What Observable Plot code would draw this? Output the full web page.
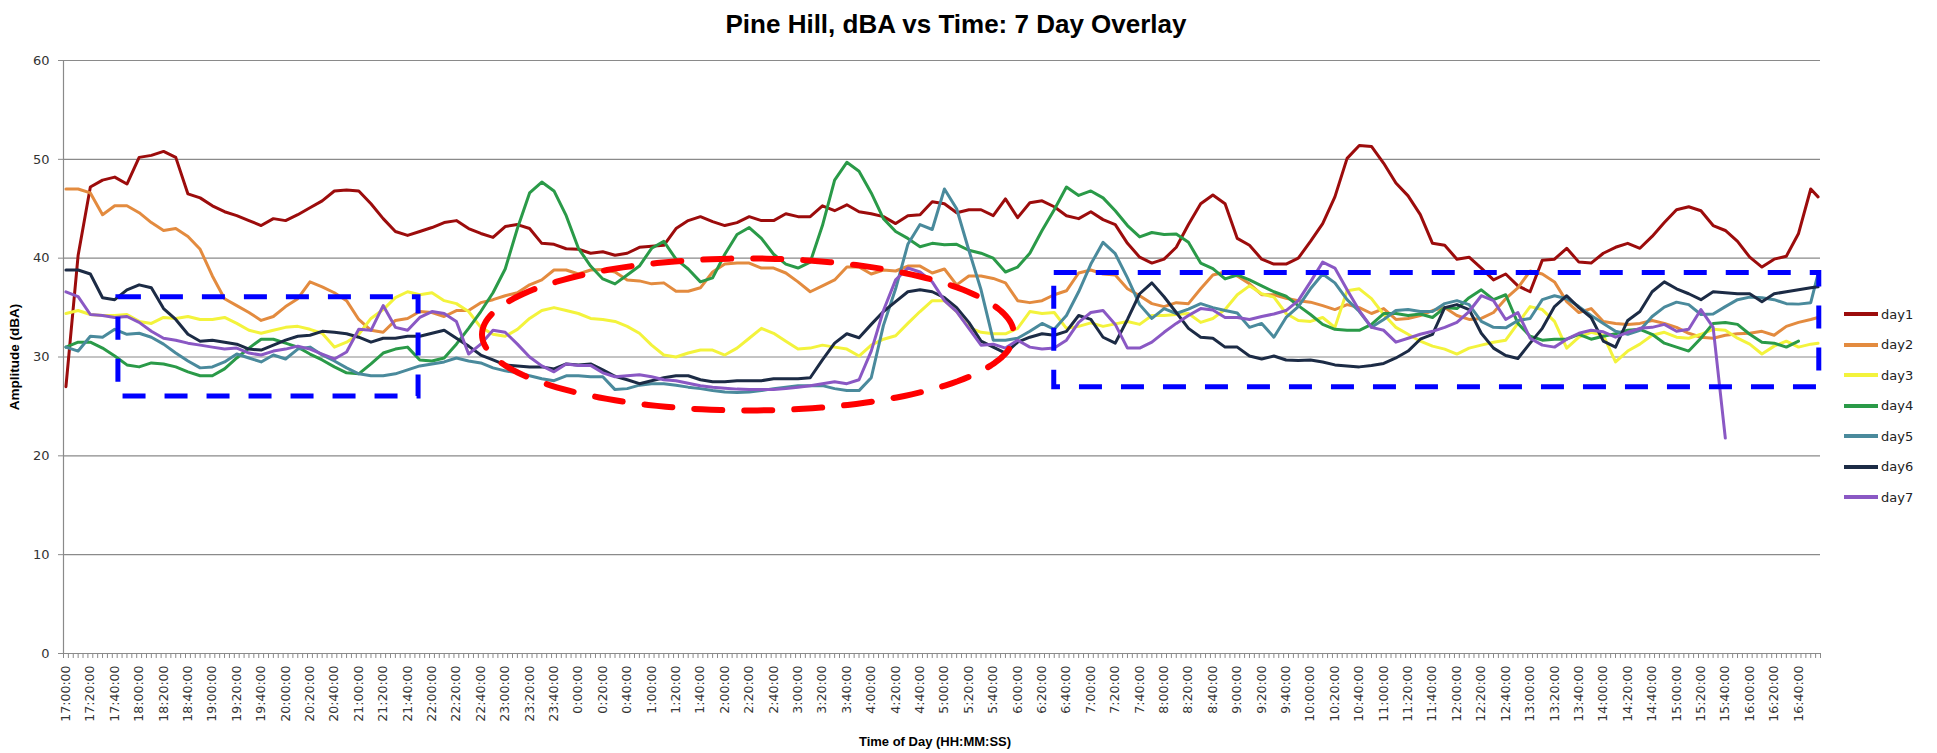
<!DOCTYPE html>
<html>
<head>
<meta charset="utf-8">
<script src="https://cdn.jsdelivr.net/npm/d3@7"></script>
<script src="https://cdn.jsdelivr.net/npm/@observablehq/plot@0.6"></script>
<style>
  html, body { margin: 0; padding: 0; background: #fff; overflow: hidden; }
  #wrap { position: relative; width: 1937px; height: 753px; }
  .leg { position: absolute; left: 1844px; height: 20px; display: flex; align-items: center;
         font-family: "DejaVu Sans", sans-serif; font-size: 13px; color: #222; }
  .leg span { margin-left: 3px; }
</style>
</head>
<body>
<div id="wrap"></div>
<script>
// ---- data (dBA), one sample every 10 minutes from 17:00, last sample at 16:56 ----
const dayNames = ["day1", "day2", "day3", "day4", "day5", "day6", "day7"];
const dayColors = ["#9c0c0c", "#e38b3f", "#f3f33c", "#2a9a48", "#4a8a9c", "#1c2b45", "#8a58c4"];

const sampleMinutes = d3.range(0, 1440, 10).concat([1436]); // minutes after 17:00

const day1 = [
  27.0, 40.3, 47.2, 47.9, 48.2, 47.5, 50.2, 50.4, 50.8, 50.2,
  46.5, 46.1, 45.3, 44.7, 44.3, 43.8, 43.3, 44.0, 43.8, 44.4,
  45.1, 45.8, 46.8, 46.9, 46.8, 45.5, 44.0, 42.7, 42.3, 42.7,
  43.1, 43.6, 43.8, 43.0, 42.5, 42.1, 43.2, 43.4, 43.0, 41.5,
  41.4, 40.95, 40.9, 40.5, 40.65, 40.3, 40.5, 41.1, 41.2, 41.3,
  43.0, 43.8, 44.2, 43.7, 43.3, 43.6, 44.2, 43.8, 43.8, 44.5,
  44.2, 44.2, 45.3, 44.8, 45.4, 44.7, 44.5, 44.2, 43.5, 44.3,
  44.4, 45.7, 45.5, 44.6, 44.9, 44.9, 44.3, 46.0, 44.1, 45.6,
  45.8, 45.2, 44.3, 44.0, 44.7, 43.9, 43.4, 41.5, 40.1, 39.5,
  39.9, 41.1, 43.4, 45.5, 46.4, 45.5, 42.0, 41.3, 39.9, 39.4,
  39.4, 40.0, 41.7, 43.5, 46.2, 50.1, 51.4, 51.3, 49.6, 47.6,
  46.3, 44.4, 41.5, 41.3, 39.9, 40.1, 39.0, 37.8, 38.4, 37.2,
  36.6, 39.8, 39.9, 41.0, 39.6, 39.5, 40.5, 41.1, 41.5, 41.0,
  42.2, 43.6, 44.9, 45.2, 44.8, 43.3, 42.8, 41.7, 40.1, 39.1,
  39.9, 40.2, 42.5, 47.0, 46.2
];
const day2 = [
  47.0, 47.0, 46.6, 44.4, 45.3, 45.3, 44.6, 43.6, 42.8, 43.0,
  42.2, 40.9, 38.2, 35.9, 35.2, 34.5, 33.7, 34.1, 35.1, 35.9,
  37.6, 37.1, 36.5, 35.7, 33.8, 32.7, 32.5, 33.7, 33.9, 34.6,
  34.5, 34.1, 34.7, 34.7, 35.5, 35.8, 36.2, 36.5, 37.3, 37.8,
  38.8, 38.8, 38.4, 38.8, 38.85, 38.6, 37.8, 37.7, 37.4, 37.5,
  36.65, 36.65, 37.0, 38.6, 39.4, 39.5, 39.5, 39.0, 39.0, 38.5,
  37.6, 36.6, 37.2, 37.8, 39.1, 39.1, 38.4, 38.8, 38.7, 39.2,
  39.2, 38.5, 38.9, 37.3, 38.2, 38.2, 37.95, 37.5, 35.7, 35.5,
  35.7, 36.3, 36.7, 38.5, 38.8, 38.4, 38.3, 36.9, 36.2, 35.4,
  35.1, 35.5, 35.4, 36.9, 38.3, 38.6, 38.2, 37.4, 36.3, 36.3,
  35.95, 35.7, 35.55, 35.2, 34.8, 35.3, 35.0, 34.4, 34.9, 33.8,
  33.9, 34.2, 34.7, 35.0, 34.2, 33.8, 33.9, 34.5, 35.9, 37.0,
  38.7, 38.4, 37.6, 35.6, 34.5, 34.9, 33.6, 33.4, 33.3, 33.4,
  33.7, 33.4, 33.0, 32.4, 32.0, 31.9, 32.2, 32.35, 32.4, 32.6,
  32.2, 33.1, 33.5, 33.8, 34.0
];
const day3 = [
  34.4, 34.7, 34.3, 34.2, 34.2, 34.3, 33.6, 33.4, 34.0, 33.9,
  34.1, 33.8, 33.8, 34.0, 33.4, 32.7, 32.4, 32.7, 33.0, 33.1,
  32.8, 32.4, 31.0, 31.5, 32.3, 33.9, 34.8, 36.0, 36.6, 36.3,
  36.5, 35.7, 35.4, 34.6, 33.0, 32.3, 32.1, 32.8, 33.9, 34.7,
  35.0, 34.7, 34.4, 33.9, 33.8, 33.6, 33.1, 32.4, 31.2, 30.2,
  30.0, 30.4, 30.7, 30.7, 30.2, 30.9, 31.9, 32.9, 32.4, 31.6,
  30.8, 30.9, 31.2, 31.0, 30.8, 30.1, 31.2, 31.8, 32.15, 33.4,
  34.6, 35.7, 35.7, 34.6, 33.0, 32.5, 32.35, 32.35, 32.9, 34.6,
  34.4, 34.5, 32.9, 33.1, 33.45, 33.1, 33.35, 33.6, 33.3, 34.2,
  34.2, 34.3, 34.4, 33.5, 33.9, 34.8, 36.3, 37.2, 36.4, 36.06,
  34.4, 33.7, 33.6, 34.0, 33.0, 36.7, 36.9, 35.9, 34.3, 33.0,
  32.3, 31.6, 31.1, 30.8, 30.3, 30.9, 31.2, 31.5, 31.7, 33.4,
  35.1, 34.8, 33.6, 30.9, 32.0, 32.5, 32.2, 29.5, 30.6, 31.3,
  32.2, 32.5, 32.0, 31.9, 32.3, 32.8, 32.7, 31.9, 31.3, 30.3,
  31.1, 31.6, 31.0, 31.3, 31.4
];
const day4 = [
  31.0, 31.5, 31.5, 30.9, 30.1, 29.2, 29.0, 29.4, 29.3, 29.0,
  28.5, 28.1, 28.1, 28.8, 29.9, 30.9, 31.8, 31.8, 31.4, 31.0,
  30.3, 29.7, 29.0, 28.4, 28.3, 29.3, 30.4, 30.8, 31.0, 29.7,
  29.6, 29.9, 31.3, 32.9, 34.6, 36.5, 38.9, 43.0, 46.6, 47.7,
  46.8, 44.3, 41.0, 39.2, 37.9, 37.4, 38.3, 39.2, 41.0, 41.7,
  39.9, 38.9, 37.6, 38.0, 40.4, 42.4, 43.1, 42.0, 40.4, 39.4,
  39.0, 39.6, 43.3, 47.9, 49.7, 48.8, 46.6, 44.0, 42.7, 42.0,
  41.15, 41.5, 41.35, 41.4, 40.8, 40.5, 40.0, 38.6, 39.1, 40.5,
  42.8, 44.9, 47.2, 46.35, 46.8, 46.1, 44.8, 43.3, 42.15, 42.6,
  42.4, 42.45, 41.6, 39.5, 38.95, 37.9, 38.3, 37.8, 37.2, 36.6,
  36.15, 35.2, 34.3, 33.3, 32.8, 32.7, 32.7, 33.3, 34.4, 34.4,
  34.2, 34.35, 34.0, 35.0, 34.9, 36.0, 36.8, 35.8, 36.3, 33.4,
  32.1, 31.7, 31.8, 31.8, 32.3, 31.8, 32.1, 32.35, 32.7, 32.8,
  32.3, 31.4, 31.0, 30.6, 31.9, 33.4, 33.5, 33.3, 32.3, 31.5,
  31.4, 31.0, 31.6, null, null
];
const day5 = [
  31.0, 30.6, 32.1, 32.0, 32.8, 32.3, 32.4, 32.0, 31.3, 30.4,
  29.6, 28.9, 29.0, 29.5, 30.3, 29.9, 29.5, 30.2, 29.8, 30.8,
  31.0, 30.2, 29.6, 28.9, 28.3, 28.1, 28.1, 28.3, 28.7, 29.1,
  29.3, 29.5, 29.9, 29.6, 29.4, 28.9, 28.6, 28.4, 28.1, 27.8,
  27.6, 28.1, 28.1, 28.0, 28.0, 26.7, 26.8, 27.15, 27.3, 27.3,
  27.15, 26.95, 26.8, 26.6, 26.45, 26.4, 26.45, 26.6, 26.8, 26.95,
  27.1, 27.1, 27.1, 26.8, 26.6, 26.6, 27.9, 33.2, 36.9, 41.4,
  43.4, 42.9, 47.0, 45.0, 40.8, 36.8, 31.7, 31.7, 31.9, 32.6,
  33.4, 32.8, 34.2, 36.6, 39.4, 41.6, 40.45, 38.0, 35.3, 33.9,
  34.9, 34.4, 34.85, 35.4, 35.0, 34.7, 34.45, 33.0, 33.4, 32.0,
  34.0, 35.1, 36.9, 38.4, 37.5, 35.8, 34.6, 33.0, 33.8, 34.7,
  34.8, 34.6, 34.6, 35.4, 35.7, 35.3, 33.6, 33.0, 32.95, 33.7,
  33.9, 35.8, 36.2, 35.9, 35.1, 34.2, 33.4, 32.6, 32.3, 32.7,
  34.1, 35.05, 35.55, 35.3, 34.3, 34.35, 35.1, 35.8, 36.06, 36.0,
  35.8, 35.4, 35.35, 35.5, 38.4
];
const day6 = [
  38.8, 38.8, 38.4, 36.0, 35.8, 36.8, 37.3, 37.0, 34.9, 33.8,
  32.3, 31.6, 31.7, 31.5, 31.3, 30.8, 30.7, 31.2, 31.7, 32.1,
  32.2, 32.6, 32.5, 32.35, 32.0, 31.5, 31.9, 31.9, 32.1, 32.1,
  32.4, 32.7, 31.9, 31.1, 30.2, 29.7, 29.2, 29.1, 29.0, 29.0,
  28.8, 29.3, 29.2, 29.3, 28.7, 28.05, 27.7, 27.3, 27.6, 27.9,
  28.1, 28.1, 27.7, 27.5, 27.5, 27.6, 27.6, 27.6, 27.8, 27.8,
  27.8, 27.9, 29.7, 31.4, 32.35, 31.95, 33.3, 34.6, 35.6, 36.6,
  36.8, 36.6, 36.0, 35.0, 33.5, 31.6, 31.0, 30.4, 31.5, 32.0,
  32.35, 32.2, 32.6, 34.2, 33.8, 32.0, 31.4, 33.8, 36.4, 37.5,
  36.1, 34.5, 32.9, 32.0, 31.9, 31.0, 31.0, 30.1, 29.8, 30.1,
  29.7, 29.65, 29.7, 29.5, 29.2, 29.1, 29.0, 29.15, 29.35, 29.9,
  30.6, 31.8, 32.3, 35.0, 35.3, 34.8, 32.4, 30.9, 30.15, 29.85,
  31.4, 32.9, 35.1, 36.2, 35.0, 34.0, 31.6, 31.0, 33.7, 34.6,
  36.6, 37.6, 36.9, 36.4, 35.8, 36.6, 36.5, 36.4, 36.4, 35.6,
  36.4, 36.6, 36.8, 37.0, 37.1
];
const day7 = [
  36.6, 36.1, 34.3, 34.2, 34.0, 34.1, 33.5, 32.6, 31.9, 31.7,
  31.4, 31.2, 31.0, 30.8, 30.9, 30.4, 30.2, 30.6, 30.8, 31.1,
  30.8, 30.3, 29.8, 30.5, 32.8, 32.7, 35.2, 33.0, 32.7, 34.0,
  34.6, 34.4, 33.6, 30.3, 31.3, 32.7, 32.5, 31.3, 30.0, 29.1,
  28.5, 29.3, 29.15, 29.15, 28.4, 28.0, 28.1, 28.2, 28.0, 27.7,
  27.6, 27.35, 27.1, 26.95, 26.85, 26.75, 26.7, 26.7, 26.7, 26.8,
  26.95, 27.1, 27.3, 27.5, 27.3, 27.7, 30.6, 34.7, 37.8, 39.0,
  38.6, 37.6, 35.7, 34.6, 32.9, 31.2, 31.3, 30.9, 31.7, 31.0,
  30.8, 30.9, 31.7, 33.5, 34.5, 34.7, 33.3, 30.9, 30.9, 31.5,
  32.5, 33.4, 34.2, 34.9, 34.75, 34.0, 34.0, 33.8, 34.1, 34.35,
  34.7, 35.7, 37.6, 39.6, 39.0, 36.8, 34.7, 33.0, 32.7, 31.5,
  31.9, 32.3, 32.6, 33.0, 33.5, 34.6, 36.2, 35.7, 33.8, 34.5,
  31.9, 31.2, 31.0, 31.8, 32.4, 32.7, 32.55, 32.0, 32.5, 32.9,
  33.0, 33.3, 32.6, 32.8, 34.8, 33.0, 21.8, null, null, null,
  null, null, null, null, null
];
const series = [day1, day2, day3, day4, day5, day6, day7];

const yTicks = [0, 10, 20, 30, 40, 50, 60];
const tickLabels = [
  "17:00:00","17:20:00","17:40:00","18:00:00","18:20:00","18:40:00",
  "19:00:00","19:20:00","19:40:00","20:00:00","20:20:00","20:40:00",
  "21:00:00","21:20:00","21:40:00","22:00:00","22:20:00","22:40:00",
  "23:00:00","23:20:00","23:40:00","0:00:00","0:20:00","0:40:00",
  "1:00:00","1:20:00","1:40:00","2:00:00","2:20:00","2:40:00",
  "3:00:00","3:20:00","3:40:00","4:00:00","4:20:00","4:40:00",
  "5:00:00","5:20:00","5:40:00","6:00:00","6:20:00","6:40:00",
  "7:00:00","7:20:00","7:40:00","8:00:00","8:20:00","8:40:00",
  "9:00:00","9:20:00","9:40:00","10:00:00","10:20:00","10:40:00",
  "11:00:00","11:20:00","11:40:00","12:00:00","12:20:00","12:40:00",
  "13:00:00","13:20:00","13:40:00","14:00:00","14:20:00","14:40:00",
  "15:00:00","15:20:00","15:40:00","16:00:00","16:20:00","16:40:00"
];

// annotation shapes (minutes after 17:00, dBA)
const blueBoxes = [
  {t1: 43, t2: 289, v1: 26.0, v2: 36.05},
  {t1: 810, t2: 1437, v1: 26.95, v2: 38.5}
];
const redEllipse = {t: 559, v: 32.28, rt: 218, rv: 7.69};

// ---- build ----
const labelMinutes = tickLabels.map((_, i) => i * 20);
const labelMap = new Map(labelMinutes.map((m, i) => [m, tickLabels[i]]));
const minorTicks = d3.range(-2, 1438.5, 4);

const rows = [];
series.forEach((vals, i) => vals.forEach((v, j) => {
  if (v != null) rows.push({day: dayNames[i], t: sampleMinutes[j], v});
}));

const ellipsePts = d3.range(0, 360, 2).map(a => {
  const r = (180 + a) * Math.PI / 180;
  return {t: redEllipse.t + redEllipse.rt * Math.cos(r), v: redEllipse.v + redEllipse.rv * Math.sin(r)};
});

const gray = "#8a8a8a";
const chart = Plot.plot({
  width: 1937,
  height: 753,
  marginLeft: 63,
  marginRight: 117,
  marginTop: 60,
  marginBottom: 100,
  x: {domain: [-2, 1438]},
  y: {domain: [0, 60]},
  color: {domain: dayNames, range: dayColors},
  style: {fontFamily: "DejaVu Sans", background: "#fff", color: "#333", overflow: "visible"},
  marks: [
    Plot.ruleY(yTicks, {stroke: gray, strokeWidth: 1.2}),
    Plot.ruleX([-2], {stroke: gray, strokeWidth: 1.2}),
    Plot.axisY(yTicks, {tickSize: 5, tickPadding: 9, fontSize: 13, stroke: gray, fill: "#333", label: null}),
    Plot.axisX(minorTicks, {tickSize: 5, tickFormat: () => "", stroke: gray, label: null}),
    Plot.axisX(labelMinutes, {tickSize: 0, tickPadding: 12, tickRotate: -90, tickFormat: d => labelMap.get(d),
      fontSize: 12.5, fill: "#333", label: null}),
    Plot.line(rows, {x: "t", y: "v", z: "day", stroke: "day", strokeWidth: 3, strokeLinejoin: "round"}),
    Plot.rect(blueBoxes, {x1: "t1", x2: "t2", y1: "v1", y2: "v2", fill: "none", stroke: "#0000ff",
      strokeWidth: 5, strokeDasharray: "23,19"}),
    Plot.line(ellipsePts, {x: "t", y: "v", curve: "linear-closed", stroke: "#ff0000", strokeWidth: 6,
      strokeDasharray: "28,22", strokeDashoffset: 14}),
    Plot.text(["Pine Hill, dBA vs Time: 7 Day Overlay"], {text: d => d, frameAnchor: "top", lineAnchor: "middle",
      textAnchor: "middle", dx: 14, dy: -35.5, fontSize: 26, fontWeight: "bold", fontFamily: "Liberation Sans", fill: "#000"}),
    Plot.text(["Amplitude (dBA)"], {text: d => d, frameAnchor: "left", lineAnchor: "middle", textAnchor: "middle",
      dx: -49, rotate: -90, fontSize: 13.5, fontWeight: "bold", fontFamily: "Liberation Sans", fill: "#000"}),
    Plot.text(["Time of Day (HH:MM:SS)"], {text: d => d, frameAnchor: "bottom", lineAnchor: "middle",
      textAnchor: "middle", dx: -7, dy: 88, fontSize: 13, fontWeight: "bold", fontFamily: "Liberation Sans", fill: "#000"})
  ]
});

const wrap = document.getElementById("wrap");
wrap.appendChild(chart);

// legend
dayNames.forEach((name, i) => {
  const item = document.createElement("div");
  item.className = "leg";
  item.style.top = (314.3 + 30.5 * i - 10) + "px";
  item.innerHTML = `<svg width="34" height="20"><line x1="0" x2="34" y1="10" y2="10" stroke="${dayColors[i]}" stroke-width="4"/></svg><span>${name}</span>`;
  wrap.appendChild(item);
});
</script>
</body>
</html>
